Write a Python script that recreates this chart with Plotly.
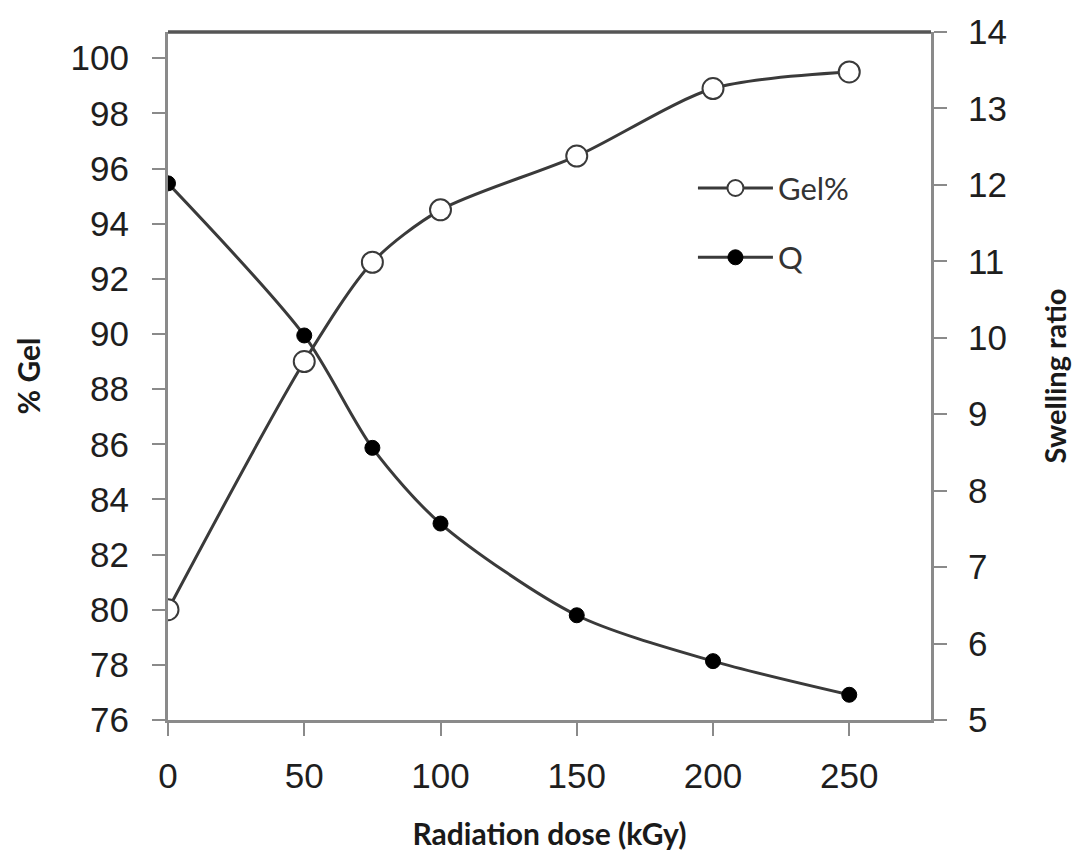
import plotly.graph_objects as go

dose = [0, 50, 75, 100, 150, 200, 250]
gel = [80.0, 89.0, 92.6, 94.5, 96.45, 98.9, 99.5]
q = [12.02, 10.03, 8.56, 7.57, 6.37, 5.77, 5.33]

left_ticks = list(range(76, 101, 2))
right_ticks = list(range(5, 15, 1))
x_ticks = [0, 50, 100, 150, 200, 250]

line_col = "#3a3a3a"
axis_col = "#8a8a8a"
tick_font = dict(family="Liberation Sans, Arial, sans-serif", size=35, color="#1e1e1e")
title_font = dict(family="Lato, Open Sans, sans-serif", size=30, color="#1a1a1a")

fig = go.Figure()
fig.add_trace(go.Scatter(
    x=dose, y=gel, name="Gel%", mode="lines+markers",
    line=dict(color=line_col, width=3, shape="spline", smoothing=0.8),
    marker=dict(symbol="circle", size=21, color="white", line=dict(color=line_col, width=2)),
    legendgroup="a", yaxis="y",
))
fig.add_trace(go.Scatter(
    x=dose, y=q, name="Q", mode="lines+markers",
    line=dict(color=line_col, width=3, shape="spline", smoothing=0.8),
    marker=dict(symbol="circle", size=15, color="black", line=dict(color="black", width=1)),
    legendgroup="b", yaxis="y2",
))

fig.update_layout(
    width=1080, height=863,
    margin=dict(l=168, r=149, t=32, b=143),
    paper_bgcolor="white", plot_bgcolor="white",
    showlegend=True,
    legend=dict(x=0.688, y=0.812, xanchor="left", yanchor="top",
                font=dict(family="Lato, Open Sans, sans-serif", size=31, color="#333333"),
                bgcolor="rgba(0,0,0,0)", tracegroupgap=26, itemwidth=75),
    xaxis=dict(range=[0, 280], tickvals=x_ticks, showgrid=False, zeroline=False,
               showline=True, linecolor=axis_col, linewidth=3, automargin=False,
               ticks="outside", ticklen=13, tickwidth=2, tickcolor=axis_col,
               tickfont=tick_font, ticklabelstandoff=10,
               title=dict(text="<b>Radiation dose (kGy)</b>", font=title_font, standoff=30)),
    yaxis=dict(range=[76, 100.95], tickvals=left_ticks, showgrid=False, zeroline=False,
               showline=True, linecolor=axis_col, linewidth=3, automargin=False,
               ticks="outside", ticklen=13, tickwidth=2, tickcolor=axis_col,
               tickfont=tick_font, ticklabelstandoff=16,
               title=dict(text="<b>% Gel</b>", font=title_font, standoff=22)),
    yaxis2=dict(range=[5, 14], tickvals=right_ticks, overlaying="y", side="right",
                showgrid=False, zeroline=False, automargin=False,
                showline=True, linecolor=axis_col, linewidth=3,
                ticks="outside", ticklen=13, tickwidth=2, tickcolor=axis_col,
                tickfont=tick_font, ticklabelstandoff=14,
                title=dict(text="<b>Swelling ratio</b>", font=dict(family="Lato, Open Sans, sans-serif", size=29, color="#1a1a1a"), standoff=40)),
    shapes=[dict(type="line", xref="paper", yref="paper", x0=0, x1=1, y0=1, y1=1,
                 line=dict(color="#555555", width=3.5))],
)

fig.write_html("out.html")
